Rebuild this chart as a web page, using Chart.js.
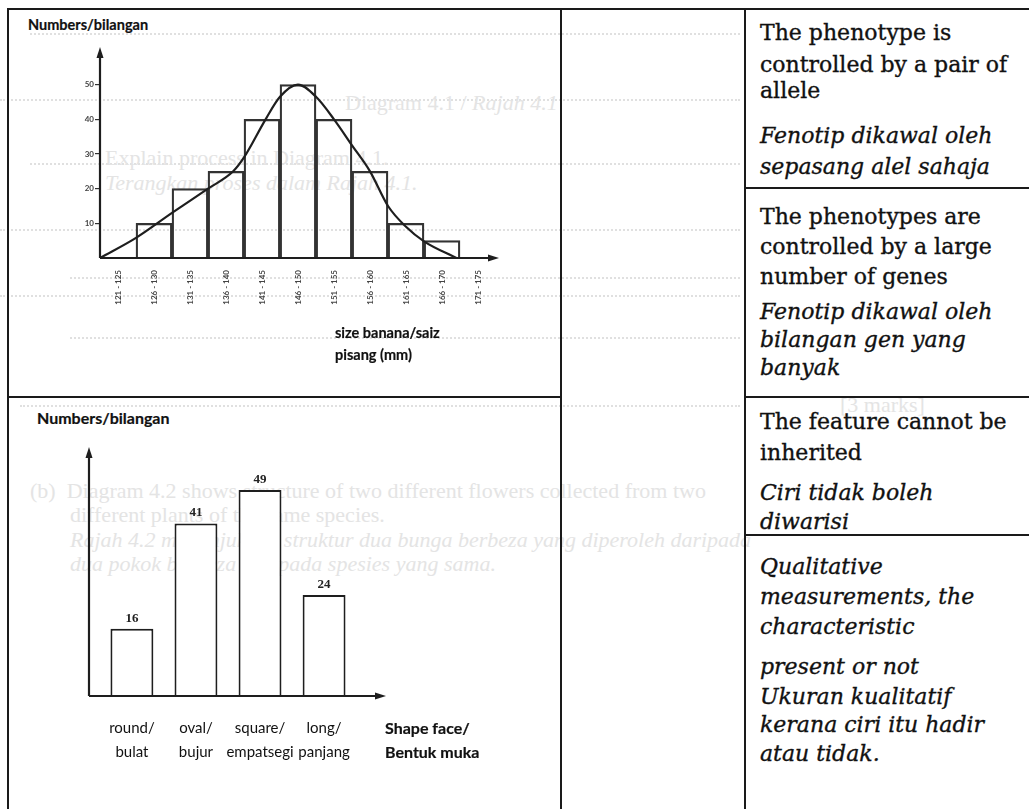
<!DOCTYPE html>
<html>
<head>
<meta charset="utf-8">
<script src="https://cdn.jsdelivr.net/npm/chart.js@4.4.1/dist/chart.umd.min.js"></script>
<style>
  html, body { margin: 0; padding: 0; background: #fff; }
  body { width: 1029px; height: 809px; position: relative; overflow: hidden; font-family: Lato, "Open Sans", sans-serif; color: #111; }
  .abs { position: absolute; white-space: nowrap; }
  .faint { color: #e4e4e4; font-family: "Liberation Serif", serif; font-size: 22px; }
  .dots { position: absolute; height: 0; border-top: 2px dotted #e0e0e0; }
  .line { position: absolute; background: #1a1a1a; }
  .lbl { font-weight: bold; line-height: 22px; -webkit-text-stroke: 0.2px #111; }
  .cell { font-family: "DejaVu Serif", serif; font-size: 22px; line-height: 30px; color: #111; -webkit-text-stroke: 0.35px #111; }
  .cell i { font-style: italic; }
  .box { position: absolute; }
</style>
</head>
<body>

<!-- faded bleed-through from the page behind -->
<div class="dots" style="left:30px; top:33px; width:710px"></div>
<div class="dots" style="left:0px; top:99px; width:740px"></div>
<div class="dots" style="left:30px; top:163px; width:710px"></div>
<div class="dots" style="left:0px; top:229px; width:740px"></div>
<div class="dots" style="left:70px; top:277px; width:670px"></div>
<div class="dots" style="left:0px; top:295px; width:740px"></div>
<div class="dots" style="left:70px; top:337px; width:670px"></div>
<div class="dots" style="left:20px; top:405px; width:720px"></div>
<div class="abs faint" style="left:345px; top:90px">Diagram 4.1 / <i>Rajah 4.1</i></div>
<div class="abs faint" style="left:105px; top:145px">Explain process in Diagram 4.1.</div>
<div class="abs faint" style="left:105px; top:170px"><i>Terangkan proses dalam Rajah 4.1.</i></div>
<div class="abs faint" style="left:840px; top:392px">[3 marks]</div>
<div class="abs faint" style="left:30px; top:478px">(b)&nbsp;&nbsp;Diagram 4.2 shows structure of two different flowers collected from two</div>
<div class="abs faint" style="left:70px; top:502px">different plants of the same species.</div>
<div class="abs faint" style="left:70px; top:527px"><i>Rajah 4.2 menunjukkan struktur dua bunga berbeza yang diperoleh daripada</i></div>
<div class="abs faint" style="left:70px; top:551px"><i>dua pokok berbeza daripada spesies yang sama.</i></div>

<!-- table rules -->
<div class="line" style="left:7px; top:8px; width:1022px; height:2px"></div>
<div class="line" style="left:7px; top:8px; width:2px; height:801px"></div>
<div class="line" style="left:560px; top:8px; width:2px; height:801px"></div>
<div class="line" style="left:744px; top:8px; width:2px; height:801px"></div>
<div class="line" style="left:7px; top:396px; width:555px; height:2px"></div>
<div class="line" style="left:744px; top:187px; width:285px; height:2px"></div>
<div class="line" style="left:744px; top:396px; width:285px; height:2px"></div>
<div class="line" style="left:744px; top:534px; width:285px; height:2px"></div>

<!-- top chart -->
<div class="abs lbl" style="left:28px; top:14px; font-size:14.5px">Numbers/bilangan</div>
<div class="box" style="left:40px; top:30px"><canvas id="sizeChart" width="480" height="300"></canvas></div>
<div class="abs lbl" style="left:335px; top:322px; font-size:14.5px">size banana/saiz</div>
<div class="abs lbl" style="left:335px; top:344px; font-size:14.5px">pisang (mm)</div>

<!-- bottom chart -->
<div class="abs lbl" style="left:37px; top:407px; font-size:16px">Numbers/bilangan</div>
<div class="box" style="left:20px; top:430px"><canvas id="shapeChart" width="380" height="350"></canvas></div>
<div class="abs lbl" style="left:385px; top:716px; font-size:16px; line-height:24px">Shape face/<br>Bentuk muka</div>

<!-- right column -->
<div class="abs cell" style="left:760px; top:18px">The phenotype is</div>
<div class="abs cell" style="left:760px; top:50px">controlled by a pair of</div>
<div class="abs cell" style="left:760px; top:76px">allele</div>
<div class="abs cell" style="left:760px; top:121px"><i>Fenotip dikawal oleh</i></div>
<div class="abs cell" style="left:760px; top:152px"><i>sepasang alel sahaja</i></div>

<div class="abs cell" style="left:760px; top:202px">The phenotypes are</div>
<div class="abs cell" style="left:760px; top:232px">controlled by a large</div>
<div class="abs cell" style="left:760px; top:262px">number of genes</div>
<div class="abs cell" style="left:760px; top:297px"><i>Fenotip dikawal oleh</i></div>
<div class="abs cell" style="left:760px; top:325px"><i>bilangan gen yang</i></div>
<div class="abs cell" style="left:760px; top:353px"><i>banyak</i></div>

<div class="abs cell" style="left:760px; top:407px">The feature cannot be</div>
<div class="abs cell" style="left:760px; top:438px">inherited</div>
<div class="abs cell" style="left:760px; top:478px"><i>Ciri tidak boleh</i></div>
<div class="abs cell" style="left:760px; top:507px"><i>diwarisi</i></div>

<div class="abs cell" style="left:760px; top:552px"><i>Qualitative</i></div>
<div class="abs cell" style="left:760px; top:582px"><i>measurements, the</i></div>
<div class="abs cell" style="left:760px; top:612px"><i>characteristic</i></div>
<div class="abs cell" style="left:760px; top:652px"><i>present or not</i></div>
<div class="abs cell" style="left:760px; top:682px"><i>Ukuran kualitatif</i></div>
<div class="abs cell" style="left:760px; top:710px"><i>kerana ciri itu hadir</i></div>
<div class="abs cell" style="left:760px; top:739px"><i>atau tidak.</i></div>

<script>
// banana size histogram
const sizeBins = ["121 - 125", "126 - 130", "131 - 135", "136 - 140", "141 - 145", "146 - 150",
                  "151 - 155", "156 - 160", "161 - 165", "166 - 170", "171 - 175"];
const sizeCounts = [0, 10, 20, 25, 40, 50, 40, 25, 10, 5, 0];
const sizeTicks = [10, 20, 30, 40, 50];
// smooth curve drawn over the bars (x in bin units, bin i spans i..i+1)
const curveX = [0, 1, 2, 3, 3.7, 4, 4.6, 5, 5.5, 6, 6.5, 7, 7.5, 8, 8.5, 9, 9.9];
const curveY = [0, 5.8, 13, 20, 25, 29, 40, 46.5, 50, 46.5, 40, 32.5, 25, 15, 9, 4.8, 0];

// face shape bar chart
const shapeLabels = [["round/", "bulat"], ["oval/", "bujur"], ["square/", "empatsegi"], ["long/", "panjang"]];
const shapeCounts = [16, 41, 49, 24];

const ink = "#1e1e1e";

// draws the two axes with arrow heads, like the hand drawn figure
const arrowAxes = {
  id: "arrowAxes",
  afterDatasetsDraw(chart) {
    const { ctx, chartArea: a } = chart;
    const right = a.right;
    ctx.save();
    ctx.strokeStyle = ink;
    ctx.fillStyle = ink;
    ctx.lineWidth = 2.2;
    ctx.beginPath();
    ctx.moveTo(a.left, a.bottom);
    ctx.lineTo(a.left, a.top + 4);
    ctx.moveTo(a.left, a.bottom);
    ctx.lineTo(right - 4, a.bottom);
    ctx.stroke();
    ctx.beginPath();
    ctx.moveTo(a.left, a.top - 3);
    ctx.lineTo(a.left - 3.5, a.top + 8);
    ctx.lineTo(a.left + 3.5, a.top + 8);
    ctx.closePath();
    ctx.fill();
    ctx.beginPath();
    ctx.moveTo(right + 3, a.bottom);
    ctx.lineTo(right - 8, a.bottom - 3.5);
    ctx.lineTo(right - 8, a.bottom + 3.5);
    ctx.closePath();
    ctx.fill();
    ctx.restore();
  }
};

// value printed over each bar
const barValues = {
  id: "barValues",
  afterDatasetsDraw(chart) {
    if (!chart.options.plugins.barValues) return;
    const { ctx } = chart;
    const meta = chart.getDatasetMeta(0);
    ctx.save();
    ctx.font = "bold 13px 'Liberation Serif', serif";
    ctx.fillStyle = "#222";
    ctx.textAlign = "center";
    ctx.textBaseline = "bottom";
    meta.data.forEach((bar, i) => {
      ctx.fillText(String(chart.data.datasets[0].data[i].y), bar.x, bar.y - 4);
    });
    ctx.restore();
  }
};

new Chart(document.getElementById("sizeChart"), {
  type: "bar",
  data: {
    datasets: [
      {
        type: "bar",
        data: sizeCounts.map((v, i) => ({ x: i + 0.5, y: v })),
        backgroundColor: "rgba(255,255,255,0)",
        borderColor: "#333",
        borderWidth: 1.6,
        barPercentage: 1,
        categoryPercentage: 1,
        grouped: false,
        order: 2
      },
      {
        type: "line",
        data: curveX.map((x, i) => ({ x: x, y: curveY[i] })),
        borderColor: ink,
        borderWidth: 2.2,
        pointRadius: 0,
        cubicInterpolationMode: "monotone",
        fill: false,
        order: 1
      }
    ]
  },
  options: {
    responsive: false,
    animation: false,
    layout: { padding: { top: 20, right: 24, left: 0, bottom: 0 } },
    plugins: { legend: { display: false }, tooltip: { enabled: false } },
    scales: {
      x: {
        type: "linear", min: 0, max: 11, offset: false,
        afterBuildTicks(scale) { scale.ticks = sizeBins.map((b, i) => ({ value: i + 0.5 })); },
        grid: { display: false, offset: false },
        border: { display: false },
        ticks: {
          minRotation: 90, maxRotation: 90, autoSkip: false, padding: 4,
          color: "#444", font: { family: "Lato", size: 8, weight: "bold" },
          callback: v => sizeBins[Math.floor(v)]
        },
        afterFit(scale) { scale.height = 72; }
      },
      y: {
        min: 0, max: 60,
        afterBuildTicks(scale) { scale.ticks = sizeTicks.map(v => ({ value: v })); },
        grid: { drawOnChartArea: false, tickLength: 5, color: "#333", lineWidth: 1.2 },
        border: { display: false },
        ticks: { padding: 1, color: "#444", font: { family: "Lato", size: 8, weight: "bold" } },
        afterFit(scale) { scale.width = 60; }
      }
    }
  },
  plugins: [arrowAxes]
});

new Chart(document.getElementById("shapeChart"), {
  type: "bar",
  data: {
    datasets: [{
      data: shapeCounts.map((v, i) => ({ x: i, y: v })),
      backgroundColor: "#fff",
      borderColor: ink,
      borderWidth: 2,
      barPercentage: 1,
      categoryPercentage: 0.67
    }]
  },
  options: {
    responsive: false,
    animation: false,
    layout: { padding: { top: 20, right: 17, left: 69, bottom: 0 } },
    plugins: { legend: { display: false }, tooltip: { enabled: false }, barValues: true },
    scales: {
      x: {
        type: "linear", min: -0.67, max: 3.92, offset: false,
        afterBuildTicks(scale) { scale.ticks = shapeLabels.map((l, i) => ({ value: i })); },
        grid: { display: false },
        border: { display: false },
        ticks: {
          padding: 12, color: "#111",
          font: { family: "Lato", size: 15, lineHeight: 1.6 },
          callback: v => shapeLabels[v]
        },
        afterFit(scale) { scale.height = 84; }
      },
      y: { min: 0, max: 58.5, display: false }
    }
  },
  plugins: [arrowAxes, barValues]
});
</script>
</body>
</html>
